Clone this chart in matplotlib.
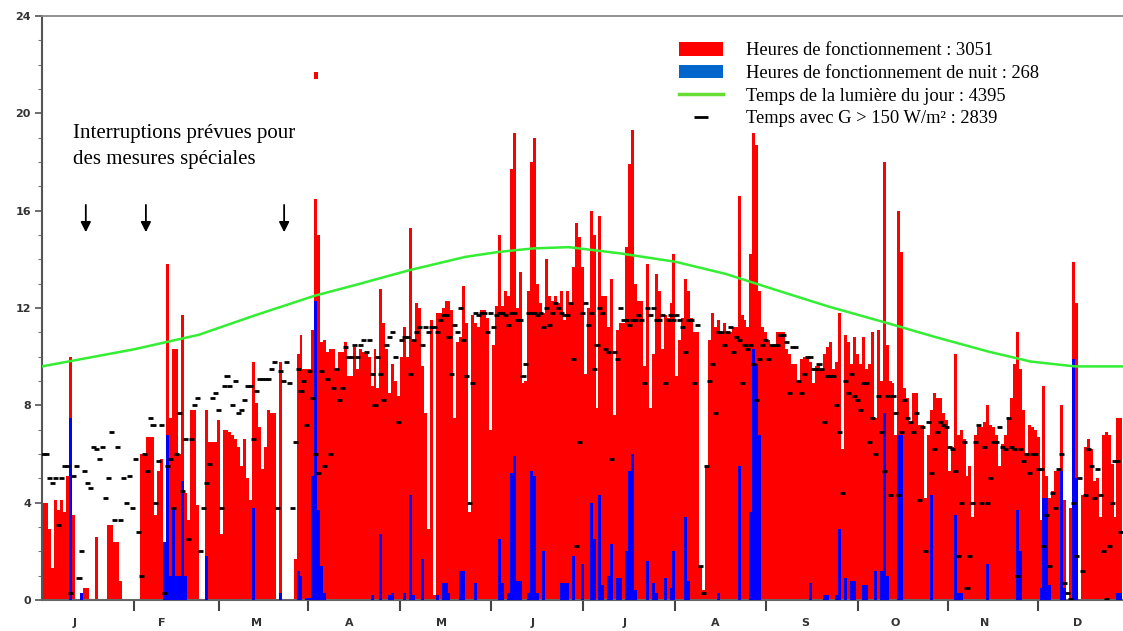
import numpy as np
import matplotlib
matplotlib.use("Agg")
import matplotlib.pyplot as plt
from matplotlib.patches import Patch
from matplotlib.lines import Line2D

# operating hours per day (red bars), one list per month
op_jan = [4.0, 4.0, 2.9, 1.3, 4.1, 3.7, 4.1, 3.6, 5.1, 10.0, 3.5, 0, 0, 0.3, 0.5, 0.5, 0, 0, 2.6, 0,
          0, 0, 3.1, 3.1, 2.4, 2.4, 0.8, 0, 0, 0, 0]
op_feb = [0, 0, 6.0, 6.0, 6.7, 6.7, 6.7, 3.5, 5.3, 5.8, 2.4, 13.8, 7.5, 10.3, 10.3, 6.0, 11.7, 4.4, 3.3, 7.8,
          7.8, 3.9, 0, 0, 7.8, 6.5, 6.5, 6.5]
op_mar = [7.4, 2.7, 7.0, 7.0, 6.9, 6.8, 6.6, 6.3, 5.5, 6.6, 5.0, 4.1, 9.8, 8.1, 7.1, 5.4, 6.3, 7.8, 7.7, 7.7,
          0, 9.8, 0, 0, 0, 0, 1.7, 10.1, 10.9, 9.5, 9.5]
op_apr = [9.5, 11.1, 16.5, 15.0, 10.6, 10.7, 10.2, 10.3, 10.3, 9.4, 10.2, 10.2, 10.6, 9.2, 9.2, 10.4, 9.5, 10.3, 10.2, 10.1,
          10.0, 8.8, 10.3, 8.7, 12.8, 11.4, 10.3, 8.5, 9.7, 9.0]
op_may = [8.4, 10.0, 11.2, 10.0, 15.3, 10.7, 12.2, 12.0, 9.6, 7.7, 2.9, 11.5, 0.2, 11.8, 11.8, 12.0, 12.3, 12.3, 11.9, 7.5,
          10.6, 10.8, 12.9, 11.4, 3.6, 11.7, 11.4, 11.2, 11.9, 11.9, 11.6]
op_jun = [7.0, 10.5, 12.1, 15.0, 12.1, 12.7, 12.5, 17.7, 19.2, 12.0, 13.5, 8.9, 9.0, 12.7, 18.0, 19.0, 13.0, 12.2, 11.8, 14.0,
          12.5, 12.3, 12.5, 12.2, 12.7, 11.5, 12.7, 12.2, 13.7, 15.5]
op_jul = [14.9, 13.7, 9.3, 12.0, 16.0, 15.0, 7.9, 15.8, 12.5, 12.5, 11.2, 13.2, 7.6, 11.1, 11.4, 11.4, 14.5, 17.9, 19.3, 13.0,
          12.3, 12.3, 9.6, 13.8, 7.9, 10.1, 13.4, 12.7, 10.3, 11.7, 11.6]
op_aug = [12.2, 14.2, 9.2, 10.7, 11.6, 13.2, 12.7, 11.6, 11.0, 11.0, 1.4, 0.4, 5.5, 10.7, 11.8, 11.2, 11.5, 11.0, 11.4, 11.0,
          11.0, 11.2, 11.2, 16.6, 11.7, 11.5, 11.2, 14.2, 19.2, 18.7, 12.7]
op_sep = [11.2, 11.0, 10.7, 10.5, 10.5, 11.0, 11.0, 11.0, 10.3, 10.1, 9.7, 9.7, 9.0, 9.9, 10.0, 10.0, 9.8, 8.9, 9.6, 9.7,
          9.5, 10.1, 10.4, 10.6, 9.5, 9.8, 11.8, 6.2, 10.9, 10.6]
op_oct = [9.7, 10.8, 10.1, 9.7, 10.8, 9.5, 9.7, 11.0, 7.5, 11.1, 9.0, 18.0, 10.5, 9.0, 8.9, 6.8, 16.0, 14.3, 8.7, 8.3,
          7.3, 8.5, 8.5, 7.2, 7.2, 4.2, 6.8, 7.8, 8.5, 8.3, 8.3]
op_nov = [7.7, 7.4, 5.3, 6.3, 10.1, 6.8, 7.0, 6.6, 5.1, 5.5, 3.4, 6.8, 7.1, 7.1, 7.3, 8.0, 7.2, 7.1, 6.8, 5.5,
          6.4, 6.8, 7.5, 8.3, 9.7, 11.0, 9.5, 7.8, 6.0, 7.2]
op_dec = [7.1, 7.0, 6.7, 3.3, 8.8, 5.1, 4.2, 4.5, 5.3, 5.3, 8.0, 4.1, 0, 3.8, 13.9, 12.2, 0, 4.3, 6.3, 6.6,
          6.2, 4.9, 5.0, 3.4, 6.8, 6.9, 6.8, 5.6, 3.4, 7.5, 7.5]

# night operating hours (blue bars): day index and value
night_days = [9, 13, 41, 42, 43, 44, 45, 46, 47, 48, 55, 71, 80, 86, 87, 89, 90, 91, 92, 93,
              94, 95, 111, 114, 117, 118, 122, 124, 125, 128, 133, 135, 136, 137, 141, 142, 146, 154, 155, 157,
              158, 159, 160, 161, 164, 165, 166, 167, 169, 175, 176, 177, 179, 182, 185, 186, 188, 189, 191, 192,
              194, 195, 197, 198, 199, 200, 204, 206, 207, 210, 212, 213, 217, 218, 228, 235, 239, 240, 241, 242,
              259, 264, 265, 268, 269, 271, 273, 274, 277, 278, 281, 283, 284, 285, 289, 290, 300, 308, 309, 310,
              319, 329, 330, 337, 338, 339, 340, 344, 345, 348, 349, 363, 364]
night_vals = [7.5, 0.3, 2.4, 6.8, 1.0, 3.8, 1.0, 1.0, 4.9, 1.0, 1.8, 3.8, 0.3, 1.2, 1.0, 0.1, 0.1, 5.1, 12.3, 3.7,
              1.4, 0.3, 0.2, 2.7, 0.2, 0.3, 0.3, 4.3, 0.2, 1.7, 0.2, 0.7, 0.7, 0.3, 1.2, 1.2, 0.7, 2.5, 0.7, 0.3,
              5.2, 5.9, 0.8, 0.8, 0.3, 5.3, 5.1, 0.3, 2.0, 0.7, 0.7, 0.7, 1.8, 1.5, 4.0, 2.5, 4.3, 0.6, 1.0, 2.3,
              0.9, 0.9, 2.0, 5.3, 6.0, 0.4, 1.6, 0.7, 0.3, 0.9, 0.5, 2.0, 3.4, 0.8, 0.3, 5.5, 3.6, 10.3, 9.7, 6.8,
              0.7, 0.2, 0.2, 0.2, 2.9, 0.9, 0.8, 0.8, 0.6, 0.6, 1.2, 1.2, 7.7, 1.0, 6.8, 6.8, 4.3, 3.5, 0.3, 0.3,
              1.5, 3.7, 2.0, 0.5, 4.2, 4.2, 0.6, 5.3, 0.5, 9.9, 5.0, 0.3, 0.3]

# hours with G > 150 W/m2 (black dashes), one list per month
g_jan = [6.0, 6.0, 5.0, 4.8, 5.0, 3.1, 5.0, 5.5, 5.5, 0.3, 5.1, 5.5, 0.9, 2.0, 5.3, 4.8, 4.6, 6.3, 6.2, 5.8,
         6.3, 4.2, 5.0, 6.9, 3.3, 6.3, 3.3, 5.0, 4.0, 5.1, 3.8]
g_feb = [5.8, 2.8, 1.0, 6.0, 5.3, 7.5, 7.2, 4.0, 5.7, 7.2, 0.3, 5.5, 5.8, 3.8, 6.0, 7.7, 4.5, 6.6, 2.5, 6.6,
         8.0, 8.3, 2.0, 3.8, 4.8, 5.6, 8.3, 8.5]
g_mar = [7.8, 3.8, 8.8, 9.2, 8.8, 8.0, 9.0, 7.7, 7.8, 8.2, 8.8, 8.8, 6.6, 8.6, 9.1, 9.1, 9.1, 9.1, 9.5, 9.8,
         3.8, 9.4, 9.0, 9.8, 8.9, 3.8, 6.5, 9.5, 8.6, 9.0, 7.2]
g_apr = [9.4, 8.3, 6.0, 5.2, 9.4, 5.5, 9.1, 6.0, 8.7, 9.5, 8.2, 8.7, 10.4, 10.0, 10.0, 10.5, 10.0, 10.5, 10.7, 10.2,
         10.7, 9.3, 8.0, 10.0, 9.3, 8.2, 10.5, 10.8, 11.0, 10.0]
g_may = [7.3, 10.7, 10.8, 10.8, 9.3, 10.7, 11.0, 11.2, 10.5, 11.2, 11.0, 11.2, 11.2, 11.0, 11.5, 11.7, 11.7, 10.8, 9.3, 11.3,
         11.0, 12.0, 10.7, 9.2, 4.0, 8.9, 11.8, 11.7, 11.8, 11.8, 11.0]
g_jun = [11.8, 11.2, 11.7, 11.8, 11.8, 11.7, 11.3, 11.8, 11.8, 11.5, 11.5, 9.2, 9.7, 11.8, 11.8, 11.8, 11.7, 11.8, 11.2, 12.0,
         11.3, 11.8, 12.2, 12.0, 11.8, 11.7, 11.7, 12.2, 9.9, 2.2]
g_jul = [6.5, 11.8, 12.2, 11.3, 11.8, 9.5, 10.5, 12.0, 11.8, 10.3, 10.2, 5.8, 10.2, 9.9, 12.0, 11.5, 11.5, 11.3, 11.5, 11.5,
         11.7, 11.5, 8.9, 12.0, 11.7, 12.0, 11.5, 11.5, 11.7, 8.9, 11.5]
g_aug = [11.7, 11.5, 11.7, 11.5, 11.2, 10.2, 11.5, 11.5, 8.9, 11.3, 1.4, 0.3, 5.5, 9.0, 9.7, 7.7, 11.0, 11.0, 10.5, 11.0,
         11.2, 10.2, 10.8, 10.7, 8.9, 10.5, 10.3, 10.5, 9.7, 8.2, 9.9]
g_sep = [10.5, 10.7, 9.9, 10.5, 10.5, 10.5, 10.9, 10.9, 10.6, 8.5, 10.4, 10.4, 9.0, 8.5, 9.3, 10.0, 10.0, 9.5, 9.5, 9.7,
         9.5, 7.3, 9.2, 9.2, 9.2, 8.0, 6.9, 4.4, 9.0, 8.5]
g_oct = [9.3, 8.4, 8.2, 7.8, 8.9, 8.9, 6.5, 7.5, 6.0, 8.4, 6.9, 5.3, 8.4, 4.3, 8.4, 7.7, 4.3, 6.9, 8.2, 7.5,
         7.3, 6.9, 7.7, 4.1, 7.1, 2.0, 7.3, 5.2, 6.2, 6.9, 7.3]
g_nov = [7.2, 7.1, 6.3, 6.2, 5.3, 1.8, 4.0, 6.5, 0.5, 1.8, 4.0, 6.5, 7.2, 4.0, 6.3, 4.0, 5.0, 6.5, 6.5, 7.1,
         6.3, 6.2, 7.5, 6.3, 6.2, 1.0, 6.2, 5.7, 6.0, 5.2]
g_dec = [6.0, 6.0, 5.4, 5.4, 2.2, 3.5, 1.4, 4.4, 3.8, 5.4, 6.0, 0.7, 0.3, 0.05, 4.0, 1.8, 5.0, 1.2, 4.3, 6.2,
         5.5, 4.2, 5.4, 4.3, 2.0, 0.05, 2.2, 4.0, 5.7, 5.7, 2.8]

# daylight duration (green line), read at a few days of the year
daylight_days = [0, 31, 53, 72, 92, 106, 124, 143, 154, 166, 178, 195, 214, 231, 249, 266, 285, 302, 320, 334, 349, 366]
daylight_hours = [9.6, 10.3, 10.9, 11.7, 12.5, 12.95, 13.55, 14.1, 14.3, 14.45, 14.5, 14.25, 13.9, 13.4, 12.7, 12.05,
                  11.4, 10.8, 10.2, 9.8, 9.6, 9.6]

# isolated reading above the April bar
spike_day = 92
spike_top = 21.7

month_labels = ["J", "F", "M", "A", "M", "J", "J", "A", "S", "O", "N", "D"]
month_label_pos = [11.1, 40.5, 72.3, 103.7, 134.8, 165.9, 197.0, 227.4, 257.8, 288.2, 318.6, 350.0]
month_start_pos = [31.1, 59.8, 89.9, 120.9, 151.7, 182.8, 213.9, 244.6, 275.7, 306.1, 336.5]
arrow_days = [14.8, 35.1, 81.8]

op_hours = op_jan + op_feb + op_mar + op_apr + op_may + op_jun + op_jul + op_aug + op_sep + op_oct + op_nov + op_dec
g150 = g_jan + g_feb + g_mar + g_apr + g_may + g_jun + g_jul + g_aug + g_sep + g_oct + g_nov + g_dec

W, H = 1123, 631
fig = plt.figure(figsize=(W / 100, H / 100), dpi=100)
ax = fig.add_axes([42 / W, 31 / H, 1 - 42 / W, 584 / H])

days = np.arange(len(op_hours)) + 0.5
ax.bar(days, op_hours, width=1.0, color="#ff0000", linewidth=0, zorder=2)
ax.bar(np.array(night_days) + 0.5, night_vals, width=1.0, color="#0000ff", linewidth=0, zorder=3)
ax.bar(spike_day + 0.5, 0.28, bottom=spike_top - 0.28, width=1.4, color="#ff0000", linewidth=0, zorder=2)
ax.plot(daylight_days, daylight_hours, color="#33ee33", lw=1.8, zorder=4)
ax.hlines(g150, days - 0.85, days + 0.85, color="black", lw=2.0, zorder=5)

ax.set_xlim(0, 365.2)
ax.set_ylim(0, 24)

ax.spines["right"].set_visible(False)
ax.spines["left"].set_color("#555555")
ax.spines["left"].set_linewidth(1.5)
ax.spines["top"].set_color("#888888")
ax.spines["top"].set_linewidth(1.3)
ax.spines["bottom"].set_color("#666666")
ax.spines["bottom"].set_linewidth(1.5)

ax.set_yticks(range(0, 25, 4))
ax.set_yticks(range(0, 25), minor=True)
ax.tick_params(axis="y", which="major", length=5, width=1.2, color="#555555", labelsize=8, labelcolor="#333333", pad=3)
ax.tick_params(axis="y", which="minor", length=3, width=0.8, color="#777777")
for lab in ax.get_yticklabels():
    lab.set_fontweight("bold")

ax.set_xticks(month_start_pos)
ax.set_xticklabels([])
ax.set_xticks(month_label_pos, minor=True)
ax.set_xticklabels(month_labels, minor=True)
ax.tick_params(axis="x", which="major", length=8, width=1.5, color="#444444", direction="out")
ax.tick_params(axis="x", which="minor", length=0, labelsize=8, labelcolor="#333333", pad=13)
for lab in ax.get_xticklabels(minor=True):
    lab.set_fontweight("bold")

ax.text(10.5, 19.55, "Interruptions prévues pour\ndes mesures spéciales", family="Liberation Serif",
        fontsize=15, va="top", ha="left", linespacing=1.5, zorder=6)
for d in arrow_days:
    ax.annotate("", xy=(d, 15.0), xytext=(d, 16.35),
                arrowprops=dict(arrowstyle="-|>", color="black", lw=1.3, mutation_scale=15))

handles = [Patch(facecolor="#ff0000", edgecolor="none"),
           Patch(facecolor="#0066cc", edgecolor="none"),
           Line2D([], [], color="#66dd33", lw=2.5),
           Line2D([], [], color="black", marker="_", ls="none", markersize=10, mew=2)]
labels = ["Heures de fonctionnement : 3051",
          "Heures de fonctionnement de nuit : 268",
          "Temps de la lumière du jour : 4395",
          "Temps avec G > 150 W/m² : 2839"]
ax.legend(handles, labels, loc="upper left", bbox_to_anchor=(679 / W, 1 - 42 / H), bbox_transform=fig.transFigure,
          frameon=False, borderpad=0, borderaxespad=0, handlelength=2.4, handleheight=0.75, handletextpad=1.2,
          labelspacing=0.3, prop={"family": "Liberation Serif", "size": 13.3})

fig.savefig("out.png", dpi=100)
